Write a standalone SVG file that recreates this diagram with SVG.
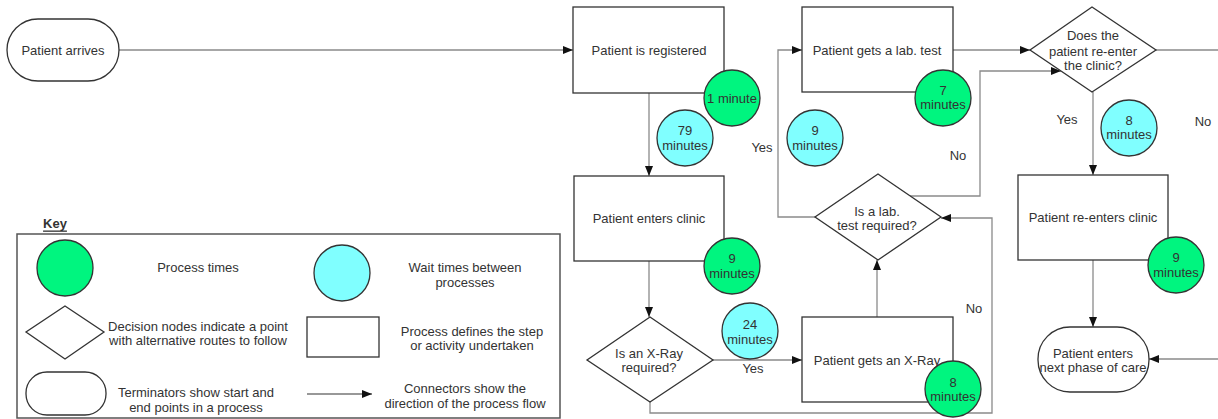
<svg xmlns="http://www.w3.org/2000/svg" width="1218" height="419" viewBox="0 0 1218 419">
<style>
text{font-family:"Liberation Sans",Arial,sans-serif;font-size:13px;fill:#333;text-anchor:middle;dominant-baseline:central}
.box{fill:#fff;stroke:#333;stroke-width:1.3}
.pt{fill:#00F57F;stroke:#333;stroke-width:1.3}
.wt{fill:#80FFFF;stroke:#333;stroke-width:1.3}
.conn{fill:none;stroke:#8a8a8a;stroke-width:1.3}
.arr{marker-end:url(#ah)}
.key{fill:#fff;stroke:#555;stroke-width:1.5}
</style>
<defs>
<marker id="ah" viewBox="0 0 10 8" refX="10" refY="4" markerWidth="10" markerHeight="8" markerUnits="userSpaceOnUse" orient="auto">
<path d="M0,0 L10,4 L0,8 Z" fill="#111"/>
</marker>
</defs>
<rect width="1218" height="419" fill="#fff"/>

<g id="connectors">
<path class="conn arr" d="M119,50 H573"/>
<path class="conn arr" d="M649,93 V176"/>
<path class="conn arr" d="M649,261 V317"/>
<path class="conn arr" d="M713,360 H802"/>
<path class="conn arr" d="M877,317 V260"/>
<path class="conn arr" d="M650,402 V413 H992 V218 H941"/>
<path class="conn arr" d="M815,217 H778 V50 H802"/>
<path class="conn arr" d="M910,196 H980 V71 H1061"/>
<path class="conn arr" d="M953,50 H1030"/>
<path class="conn" d="M1156,50 H1218"/>
<path class="conn arr" d="M1093,92 V175"/>
<path class="conn arr" d="M1093,260 V327"/>
<path class="conn arr" d="M1218,359 H1149"/>
<text x="762" y="147">Yes</text>
<text x="958" y="155">No</text>
<text x="974" y="308">No</text>
<text x="753" y="368">Yes</text>
<text x="1067" y="119">Yes</text>
<text x="1203" y="121">No</text>
</g>

<g id="patient-arrives">
<rect class="box" x="7" y="19" width="112" height="62" rx="31"/>
<text x="63" y="50">Patient arrives</text>
</g>

<g id="registered">
<rect class="box" x="573" y="7" width="151" height="86"/>
<text x="649" y="50">Patient is registered</text>
<circle class="pt" cx="732" cy="98" r="28"/>
<text x="732" y="98">1 minute</text>
</g>

<g id="wait-79">
<circle class="wt" cx="685" cy="138" r="28"/>
<text x="685" y="130">79</text>
<text x="685" y="145">minutes</text>
</g>

<g id="enters-clinic">
<rect class="box" x="574" y="176" width="150" height="85"/>
<text x="649" y="218">Patient enters clinic</text>
<circle class="pt" cx="732" cy="266" r="28"/>
<text x="732" y="258">9</text>
<text x="732" y="273">minutes</text>
</g>

<g id="xray-decision">
<polygon class="box" points="650,317 713,360 650,402 587,360"/>
<text x="649" y="353">Is an X-Ray</text>
<text x="649" y="367">required?</text>
</g>

<g id="wait-24">
<circle class="wt" cx="750" cy="331" r="28"/>
<text x="750" y="324">24</text>
<text x="750" y="339">minutes</text>
</g>

<g id="xray">
<rect class="box" x="802" y="317" width="151" height="85"/>
<text x="877" y="360">Patient gets an X-Ray</text>
<circle class="pt" cx="953" cy="389" r="28"/>
<text x="953" y="382">8</text>
<text x="953" y="396">minutes</text>
</g>

<g id="lab-decision">
<polygon class="box" points="878,174 941,217 878,260 815,217"/>
<text x="877" y="211">Is a lab.</text>
<text x="877" y="225">test required?</text>
</g>

<g id="wait-9">
<circle class="wt" cx="815" cy="138" r="28"/>
<text x="815" y="130">9</text>
<text x="815" y="145">minutes</text>
</g>

<g id="lab-test">
<rect class="box" x="802" y="7" width="151" height="85"/>
<text x="877" y="50">Patient gets a lab. test</text>
<circle class="pt" cx="943" cy="98" r="28"/>
<text x="943" y="90">7</text>
<text x="943" y="104">minutes</text>
</g>

<g id="reenter-decision">
<polygon class="box" points="1092,7 1156,50 1092,92 1030,50"/>
<text x="1093" y="35">Does the</text>
<text x="1093" y="51">patient re-enter</text>
<text x="1093" y="65">the clinic?</text>
</g>

<g id="wait-8">
<circle class="wt" cx="1129" cy="128" r="28"/>
<text x="1129" y="120">8</text>
<text x="1129" y="134">minutes</text>
</g>

<g id="reenters-clinic">
<rect class="box" x="1018" y="175" width="150" height="85"/>
<text x="1093" y="217">Patient re-enters clinic</text>
<circle class="pt" cx="1176" cy="265" r="28"/>
<text x="1176" y="257">9</text>
<text x="1176" y="272">minutes</text>
</g>

<g id="next-phase">
<rect class="box" x="1038" y="327" width="111" height="65" rx="32"/>
<text x="1093" y="353">Patient enters</text>
<text x="1093" y="367">next phase of care</text>
</g>

<g id="key">
<text x="55" y="223" style="font-weight:bold;text-decoration:underline">Key</text>
<rect class="key" x="17" y="234" width="543" height="184"/>
<circle class="pt" cx="65" cy="268" r="28"/>
<text x="198" y="267">Process times</text>
<polygon class="box" points="65,306 104,332 65,359 26,332"/>
<text x="198" y="326">Decision nodes indicate a point</text>
<text x="198" y="340">with alternative routes to follow</text>
<rect class="box" x="26" y="372" width="80" height="43" rx="21"/>
<text x="196" y="392">Terminators show start and</text>
<text x="196" y="407">end points in a process</text>
<circle class="wt" cx="342" cy="273" r="28"/>
<text x="465" y="267">Wait times between</text>
<text x="465" y="282">processes</text>
<rect class="box" x="307" y="317" width="72" height="40"/>
<text x="472" y="331">Process defines the step</text>
<text x="472" y="345">or activity undertaken</text>
<path d="M307,394 H372" stroke="#333" stroke-width="1.2" fill="none" marker-end="url(#ah)"/>
<text x="465" y="388">Connectors show the</text>
<text x="465" y="403">direction of the process flow</text>
</g>
</svg>
